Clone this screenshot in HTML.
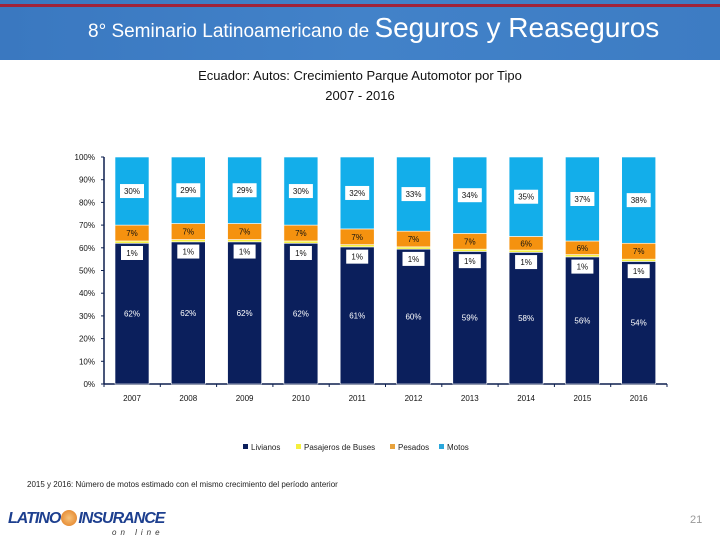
<!DOCTYPE html>
<html><head><meta charset="utf-8"><style>
body{margin:0;width:720px;height:540px;overflow:hidden;background:#fff;font-family:"Liberation Sans",sans-serif;position:relative}
</style></head><body>
<div style="position:absolute;left:0;top:0;width:720px;height:60px;background:linear-gradient(90deg,#3a78c0,#4282c9 50%,#3d7cc3)">
<div style="position:absolute;left:0;top:4px;width:720px;height:3px;background:#a0233a"></div>
<div style="position:absolute;left:88px;top:12px;color:#fff;font-family:'Liberation Sans',sans-serif;white-space:nowrap"><span style="font-size:19px">8° Seminario Latinoamericano de </span><span style="font-size:28px">Seguros y Reaseguros</span></div>
</div>
<div style="position:absolute;left:0;top:66px;width:720px;text-align:center;font-size:13px;line-height:20px;color:#111">Ecuador: Autos: Crecimiento Parque Automotor por Tipo<br>2007 - 2016</div>
<svg id="c" width="720" height="540" style="position:absolute;left:0;top:0"></svg>
<div style="position:absolute;left:27px;top:480px;font-size:8px;color:#222">2015 y 2016: Número de motos estimado con el mismo crecimiento del período anterior</div>
<div style="position:absolute;left:8px;top:510px;font-size:16px;font-weight:bold;font-style:italic;color:#1d3f8f;letter-spacing:-1px">LATINO<span style="display:inline-block;width:16px;height:16px;border-radius:50%;background:radial-gradient(#f7c27a,#e07a1e);vertical-align:-3px;margin:0 1px"></span>INSURANCE</div>
<div style="position:absolute;left:112px;top:528px;font-size:8px;font-style:italic;color:#333;letter-spacing:4px">on line</div>
<div style="position:absolute;left:690px;top:514px;font-size:11px;color:#999">21</div>
<script>
const years=["2007","2008","2009","2010","2011","2012","2013","2014","2015","2016"];
const livianos=[62,62,62,62,61,60,59,58,56,54];
const buses=[1,1,1,1,1,1,1,1,1,1];
const pesados=[7,7,7,7,7,7,7,6,6,7];
const motos=[30,29,29,30,32,33,34,35,37,38];
const yTicks=[0,10,20,30,40,50,60,70,80,90,100];
const ns="http://www.w3.org/2000/svg";
const svg=document.getElementById('c');
const x0=104,y0=384,y100=157,step=56.3,c0=132,bw=34;
const y=v=>y0-(y0-y100)*v/100;
const xc=i=>c0+i*step;
function mk(t,a,p){const e=document.createElementNS(ns,t);for(const k in a)e.setAttribute(k,a[k]);(p||svg).appendChild(e);return e;}
function txt(s,x,yy,a){const e=mk('text',Object.assign({x:x,y:yy,'font-size':8,'text-anchor':'middle','font-family':'Liberation Sans, sans-serif',fill:'#111'},a||{}));e.textContent=s;return e;}
yTicks.forEach(t=>{
 const l=txt(t+'%',95,y(t)+3,{'text-anchor':'end'});
 
 
 mk('line',{x1:x0-3,x2:x0,y1:y(t),y2:y(t),stroke:'#0d1f4f'});
});
const ax=mk('line',{x1:x0,x2:x0,y1:y100,y2:y0,stroke:'#0d1f4f','stroke-width':1.5});


const xa=mk('line',{x1:x0,x2:x0+10*step,y1:y0,y2:y0,stroke:'#0d1f4f','stroke-width':1.5});


for(let i=0;i<=10;i++)mk('line',{x1:x0+i*step,x2:x0+i*step,y1:y0,y2:y0+3,stroke:'#0d1f4f'});
const series=[[livianos,'#0b1f5c','livianos'],[buses,'#f5ef3c','buses'],[pesados,'#f5920f','pesados'],[motos,'#13aeea','motos']];
years.forEach((yr,i)=>{
 const tot=livianos[i]+buses[i]+pesados[i]+motos[i];
 let acc=0;const tops=[];
 series.forEach(([arr,col,nm])=>{
  const v=arr[i]*100/tot;
  const r=mk('rect',{x:xc(i)-bw/2,y:y(acc+v),width:bw,height:y(acc)-y(acc+v),fill:col,stroke:'#fff','stroke-width':0.6});
  
  
  tops.push([acc,acc+v]);acc+=v;
 });
 const cx=xc(i);
 const l1=txt(livianos[i]+'%',cx,(y(tops[0][0])+y(tops[0][1]))/2+3,{fill:'#fff'});
 
 
 const by=y(tops[1][1])+12;
 mk('rect',{x:cx-11,y:by-7,width:22,height:14,fill:'#fff'});
 const l2=txt(buses[i]+'%',cx,by+3);
 
 
 const l3=txt(pesados[i]+'%',cx,(y(tops[2][0])+y(tops[2][1]))/2+3);
 
 
 const my=(y(tops[3][0])+y(tops[3][1]))/2;
 mk('rect',{x:cx-12,y:my-7,width:24,height:14,fill:'#fff'});
 const l4=txt(motos[i]+'%',cx,my+3);
 
 
 const xl=txt(yr,cx,y0+17);
 
 
});
const leg=[['Livianos','#0b1f5c',243],['Pasajeros de Buses','#f5ef3c',296],['Pesados','#e8a23c',390],['Motos','#2aa7dc',439]];
leg.forEach(([n,c,lx])=>{
 const g=mk('g',{});
 
 
 mk('rect',{x:lx,y:444,width:5,height:5,fill:c},g);
 const t=mk('text',{x:lx+8,y:450,'font-size':8,'font-family':'Liberation Sans, sans-serif',fill:'#222'},g);t.textContent=n;
});
</script>
</body></html>
